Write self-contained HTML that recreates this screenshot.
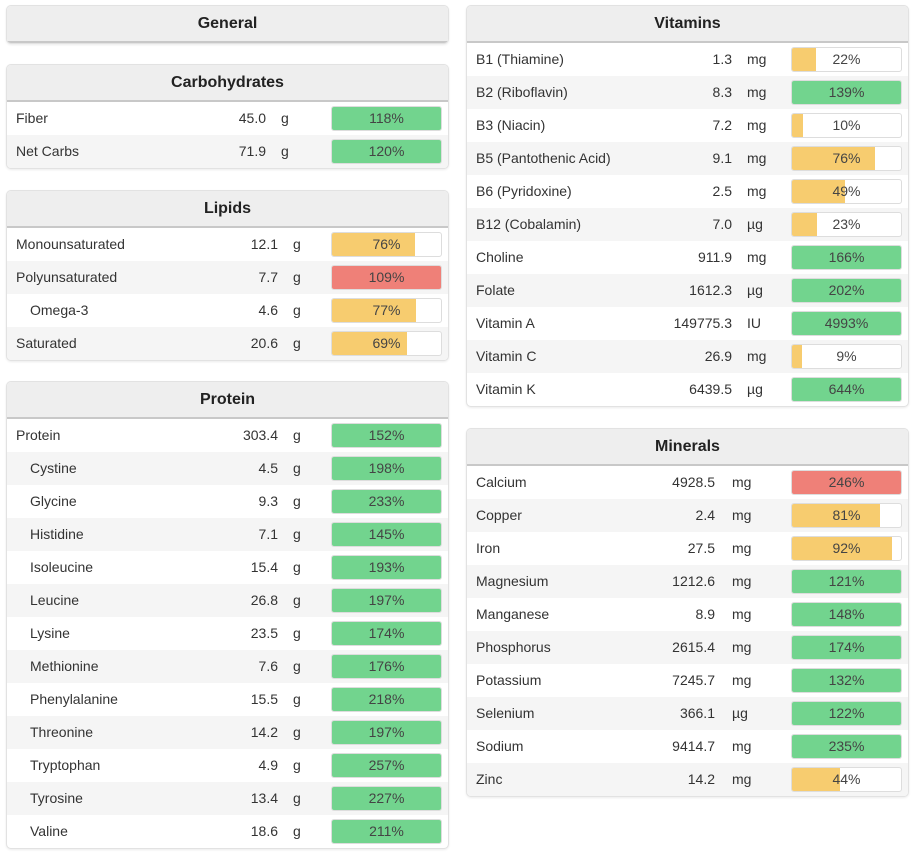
<!DOCTYPE html>
<html><head><meta charset="utf-8"><style>
body{margin:0;width:917px;height:860px;background:#fff;font-family:"Liberation Sans",sans-serif;position:relative;overflow:hidden;color:#333}
.panel{position:absolute;border:1px solid #e2e2e2;border-radius:5px;background:#fff;box-shadow:0 1px 2px rgba(0,0,0,.08);overflow:hidden}
.hdr{height:35px;background:#eeeeee;border-bottom:2px solid #c8c8c8;text-align:center;font-weight:bold;font-size:16px;line-height:36px;color:#222}
.row{position:absolute;left:0;right:0;height:33px;font-size:14px;line-height:33px}
.row.alt{background:#f5f5f5}
.nm{position:absolute;left:9px}
.val{position:absolute;text-align:right}
.unit{position:absolute}
.bar{position:absolute;top:4px;width:109px;height:23px;border:1px solid #ddd;border-radius:3px;background:#fff;overflow:hidden}
.fill{position:absolute;left:0;top:0;bottom:0}
.pct{position:absolute;left:0;right:0;top:0;line-height:23px;text-align:center;font-size:14px;color:#444}
</style></head><body>
<script>
const panels=[
 {id:'general',title:'General',x:6,y:5,w:443,names:[],values:[],units:[],pcts:[],colors:[],vr:0,ux:0},
 {id:'carbohydrates',title:'Carbohydrates',x:6,y:64,w:443,vr:259,ux:274,
  names:['Fiber','Net Carbs'],values:['45.0','71.9'],units:['g','g'],pcts:[118,120],colors:['g','g'],indent:[0,0]},
 {id:'lipids',title:'Lipids',x:6,y:190,w:443,vr:271,ux:286,
  names:['Monounsaturated','Polyunsaturated','Omega-3','Saturated'],values:['12.1','7.7','4.6','20.6'],units:['g','g','g','g'],pcts:[76,109,77,69],colors:['y','r','y','y'],indent:[0,0,1,0]},
 {id:'protein',title:'Protein',x:6,y:381,w:443,vr:271,ux:286,
  names:['Protein','Cystine','Glycine','Histidine','Isoleucine','Leucine','Lysine','Methionine','Phenylalanine','Threonine','Tryptophan','Tyrosine','Valine'],
  values:['303.4','4.5','9.3','7.1','15.4','26.8','23.5','7.6','15.5','14.2','4.9','13.4','18.6'],units:Array(13).fill('g'),
  pcts:[152,198,233,145,193,197,174,176,218,197,257,227,211],colors:Array(13).fill('g'),indent:[0,1,1,1,1,1,1,1,1,1,1,1,1]},
 {id:'vitamins',title:'Vitamins',x:466,y:5,w:443,vr:265,ux:280,
  names:['B1 (Thiamine)','B2 (Riboflavin)','B3 (Niacin)','B5 (Pantothenic Acid)','B6 (Pyridoxine)','B12 (Cobalamin)','Choline','Folate','Vitamin A','Vitamin C','Vitamin K'],
  values:['1.3','8.3','7.2','9.1','2.5','7.0','911.9','1612.3','149775.3','26.9','6439.5'],
  units:['mg','mg','mg','mg','mg','µg','mg','µg','IU','mg','µg'],
  pcts:[22,139,10,76,49,23,166,202,4993,9,644],colors:['y','g','y','y','y','y','g','g','g','y','g'],indent:Array(11).fill(0)},
 {id:'minerals',title:'Minerals',x:466,y:428,w:443,vr:248,ux:265,
  names:['Calcium','Copper','Iron','Magnesium','Manganese','Phosphorus','Potassium','Selenium','Sodium','Zinc'],
  values:['4928.5','2.4','27.5','1212.6','8.9','2615.4','7245.7','366.1','9414.7','14.2'],
  units:['mg','mg','mg','mg','mg','mg','mg','µg','mg','mg'],
  pcts:[246,81,92,121,148,174,132,122,235,44],colors:['r','y','y','g','g','g','g','g','g','y'],indent:Array(10).fill(0)}
];
const palette={g:'#72d48e',y:'#f7cc6f',r:'#ef8078'};
const ROW=33,HDR=37;
function barWidth(p){return Math.min(p,100)/100*109;}
panels.forEach(p=>{
  const el=document.createElement('div');
  el.className='panel';
  
  
  const n=p.names.length;
  el.style.cssText=`left:${p.x}px;top:${p.y}px;width:${p.w-2}px;height:${HDR+n*ROW}px`;
  const h=document.createElement('div');h.className='hdr';h.textContent=p.title;
  
  
  el.appendChild(h);
  p.names.forEach((name,i)=>{
    const r=document.createElement('div');
    r.className='row'+(i%2?' alt':'');
    r.style.top=(HDR+i*ROW)+'px';
    
    
    const nm=document.createElement('span');nm.className='nm';nm.textContent=name;
    if(p.indent[i])nm.style.left='23px';
    
    
    const v=document.createElement('span');v.className='val';v.textContent=p.values[i];
    v.style.right=(p.w-2-p.vr)+'px';
    
    
    const u=document.createElement('span');u.className='unit';u.textContent=p.units[i];u.style.left=p.ux+'px';
    
    
    const b=document.createElement('div');b.className='bar';b.style.left='324px';
    
    
    const f=document.createElement('div');f.className='fill';
    f.style.width=barWidth(p.pcts[i])+'px';f.style.background=palette[p.colors[i]];
    
    
    const t=document.createElement('div');t.className='pct';t.textContent=p.pcts[i]+'%';
    
    
    b.appendChild(f);b.appendChild(t);
    r.appendChild(nm);r.appendChild(v);r.appendChild(u);r.appendChild(b);
    el.appendChild(r);
  });
  document.body.appendChild(el);
});
</script>
</body></html>
